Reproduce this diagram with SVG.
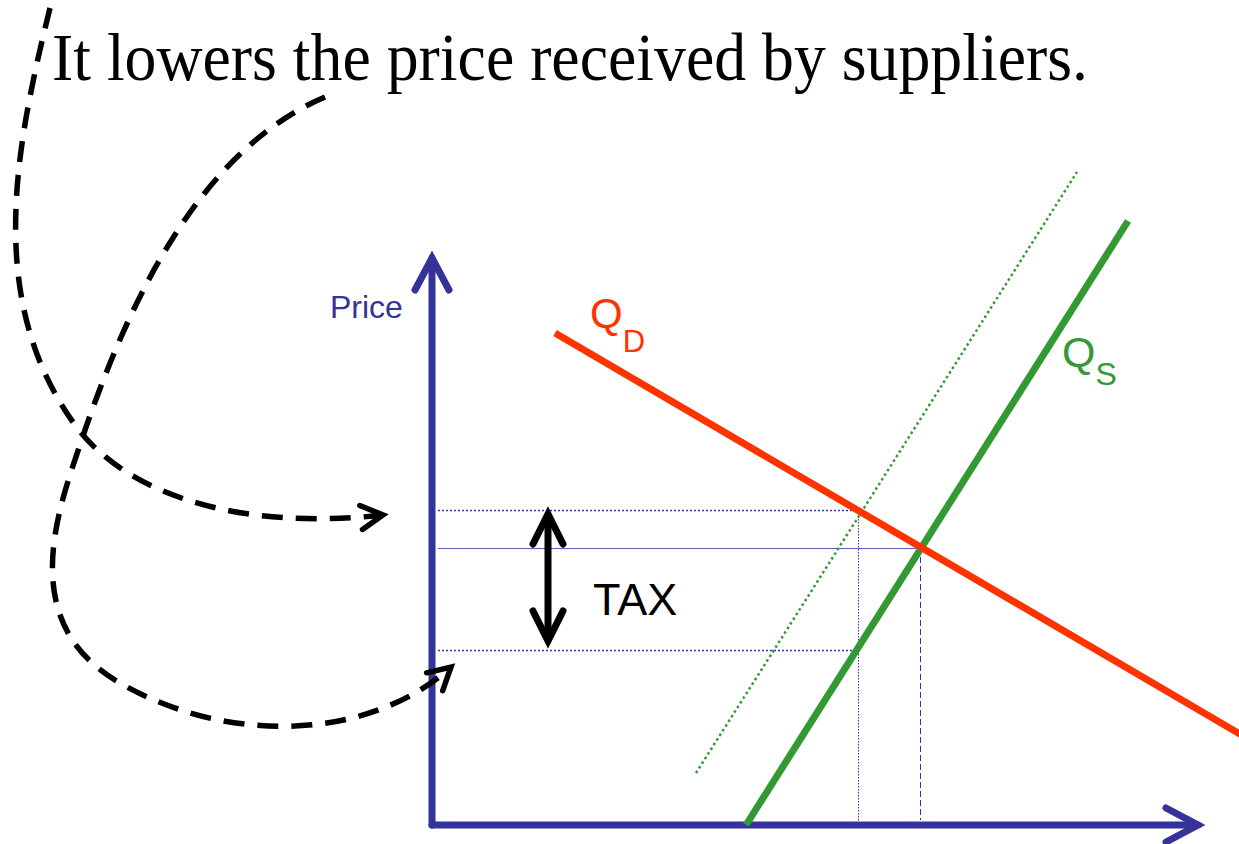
<svg xmlns="http://www.w3.org/2000/svg" width="1239" height="844" viewBox="0 0 1239 844">
<style>
.title{font-family:"Liberation Serif","Times New Roman",serif;font-size:68px;fill:#000}
.sans{font-family:"Liberation Sans",Arial,sans-serif}
.axis{stroke:#333399;stroke-width:7;fill:none;stroke-linecap:round}
.curve{stroke:#000;stroke-width:5.5;fill:none;stroke-dasharray:21 13}
.guide{stroke:#3333aa;fill:none}
</style>
<defs>
<marker id="axisHead" markerUnits="userSpaceOnUse" orient="auto" overflow="visible" refX="0" refY="0" markerWidth="1" markerHeight="1">
<path d="M-32,-17 L0,0 L-32,17" fill="none" stroke="#333399" stroke-width="7" stroke-linecap="round" stroke-linejoin="miter"/>
</marker>
<marker id="taxHead" markerUnits="userSpaceOnUse" orient="auto-start-reverse" overflow="visible" refX="0" refY="0" markerWidth="1" markerHeight="1">
<path d="M-30,-15 L0,0 L-30,15" fill="none" stroke="#000" stroke-width="7" stroke-linecap="round" stroke-linejoin="miter"/>
</marker>
<marker id="curveHead" markerUnits="userSpaceOnUse" orient="auto" overflow="visible" refX="0" refY="0" markerWidth="1" markerHeight="1">
<path d="M-22,-12 L0,0 L-22,12" fill="none" stroke="#000" stroke-width="5.5" stroke-linecap="round" stroke-linejoin="miter"/>
</marker>
</defs>

<g id="title">
<text class="title" x="52" y="80" textLength="1036" lengthAdjust="spacingAndGlyphs">It lowers the price received by suppliers.</text>
</g>

<g id="guides">
<line class="guide" x1="438" y1="510.5" x2="858" y2="510.5" stroke-width="1.5" stroke-dasharray="2 2"/>
<line class="guide" x1="438" y1="548.5" x2="920" y2="548.5" stroke-width="1" opacity="0.8"/>
<line class="guide" x1="438" y1="650.5" x2="858" y2="650.5" stroke-width="1.5" stroke-dasharray="2 2"/>
<line class="guide" x1="858.5" y1="510" x2="858.5" y2="821" stroke-width="1" stroke-dasharray="1.5 1.5"/>
<line class="guide" x1="920.5" y1="548" x2="920.5" y2="820" stroke-width="1" stroke-dasharray="6 3"/>
</g>

<g id="axes">
<path class="axis" d="M432,825 L432,258" marker-end="url(#axisHead)"/>
<path class="axis" d="M432,825 L1198,825" marker-end="url(#axisHead)"/>
<text class="sans" x="330" y="318" font-size="32" fill="#333399">Price</text>
</g>

<g id="supply-shifted">
<line x1="696" y1="773" x2="1077" y2="172" stroke="#339933" stroke-width="2.5" stroke-dasharray="2.5 3"/>
</g>

<g id="supply">
<line x1="746" y1="825" x2="1128" y2="221" stroke="#339933" stroke-width="7"/>
<text class="sans" x="1062" y="367" font-size="43" fill="#339933">Q<tspan font-size="32" dy="18">S</tspan></text>
</g>

<g id="demand">
<line x1="555" y1="333" x2="1245" y2="737" stroke="#ff3300" stroke-width="7"/>
<text class="sans" x="590" y="328" font-size="42" fill="#ff3300">Q<tspan font-size="31" dy="24">D</tspan></text>
</g>

<g id="tax">
<line x1="548" y1="514" x2="548" y2="641" stroke="#000" stroke-width="7" marker-start="url(#taxHead)" marker-end="url(#taxHead)"/>
<text class="sans" x="593" y="615" font-size="45" fill="#000">TAX</text>
</g>

<g id="connectors">
<path class="curve" d="M50,8 C15,150 -15,300 75,425 C130,500 250,530 383,515" marker-end="url(#curveHead)"/>
<path class="curve" d="M325,97 C200,150 130,300 85,430 C62,500 10,620 120,683 C230,746 370,740 451,667" marker-end="url(#curveHead)"/>
</g>
</svg>
